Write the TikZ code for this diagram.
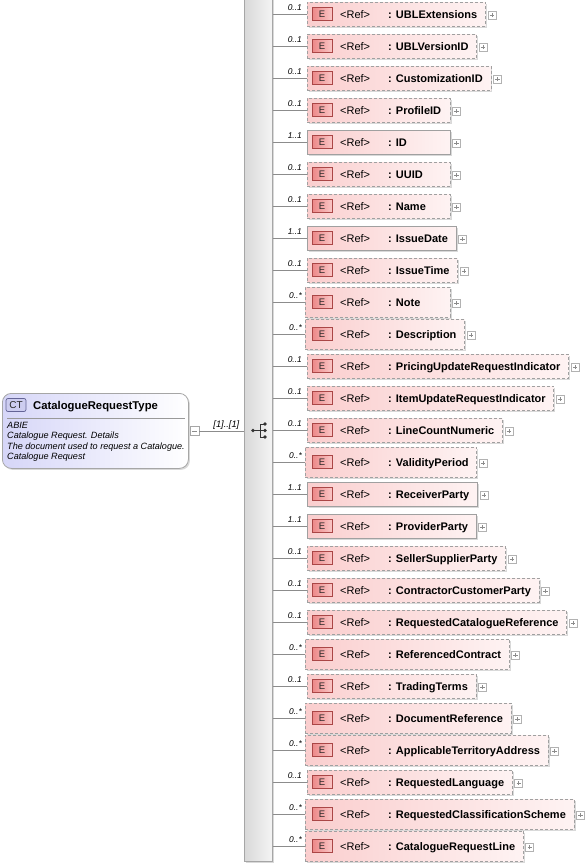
\documentclass[tikz,border=0pt]{standalone}
\usepackage{fontspec}
\setmainfont{Liberation Sans}
\usetikzlibrary{fit,shadows,calc}
\pgfdeclarelayer{bg}
\pgfsetlayers{bg,main}
\definecolor{pinkL}{RGB}{250,206,206}
\definecolor{pinkR}{RGB}{254,243,243}
\definecolor{eL}{RGB}{236,136,136}
\definecolor{eR}{RGB}{250,198,198}
\definecolor{eD}{RGB}{170,70,70}
\definecolor{lavL}{RGB}{214,214,248}
\definecolor{edge}{RGB}{160,160,160}
\definecolor{ctD}{RGB}{100,100,150}
\definecolor{ctF}{RGB}{205,205,240}
\tikzset{
 elbox/.style={rectangle, inner sep=0pt, left color=pinkL, right color=pinkR, draw=edge, line width=0.8pt,
   drop shadow={shadow xshift=1.5pt, shadow yshift=-1.5pt, fill=black, opacity=0.15}},
 box-o/.style={elbox, dash pattern=on 3pt off 2pt},
 box-m/.style={box-o},
 box-r/.style={elbox},
 eicon/.style={rectangle, minimum width=20pt, minimum height=13pt, inner sep=0pt, draw=eD, line width=0.7pt,
   left color=eL, right color=eR, font=\fontsize{9.5}{10}\selectfont, text=black!85},
 reftxt/.style={anchor=base west, inner sep=0pt, font=\fontsize{11}{13}\selectfont},
 nametxt/.style={anchor=base west, inner sep=0pt, font=\fontsize{11}{13}\selectfont\bfseries},
 multtxt/.style={anchor=base east, inner sep=0pt, font=\fontsize{8.4}{10}\selectfont\itshape},
 desctxt/.style={anchor=base west, inner sep=0pt, font=\fontsize{9.1}{10}\selectfont\itshape},
 conn/.style={draw=black!45, line width=0.8pt},
 plusbox/.style={rectangle, draw=black!30, fill=white, minimum size=8pt, inner sep=0pt, line width=0.6pt,
   path picture={\draw[black!45, line width=0.6pt]
     ([xshift=1.8pt]path picture bounding box.west) -- ([xshift=-1.8pt]path picture bounding box.east)
     ([yshift=1.8pt]path picture bounding box.south) -- ([yshift=-1.8pt]path picture bounding box.north);}},
 minusbox/.style={rectangle, draw=black!35, fill=white, minimum size=9pt, inner sep=0pt, line width=0.6pt,
   path picture={\draw[black!45, line width=0.6pt]
     ([xshift=2pt]path picture bounding box.west) -- ([xshift=-2pt]path picture bounding box.east);}},
 seqbar/.style={rectangle, inner sep=0pt, left color=black!15, right color=black!4, draw=black!35, line width=0.8pt,
   drop shadow={shadow xshift=1.5pt, shadow yshift=-1.5pt, fill=black, opacity=0.15}},
 ctbox/.style={rectangle, rounded corners=9pt, inner sep=0pt, left color=lavL, right color=white, draw=black!35, line width=0.8pt,
   drop shadow={shadow xshift=1.5pt, shadow yshift=-1.5pt, fill=black, opacity=0.15}},
 ctbadge/.style={rectangle, rounded corners=2pt, draw=ctD, fill=ctF, minimum width=20pt, minimum height=13pt, inner sep=0pt,
   line width=0.7pt, font=\fontsize{10}{11}\selectfont, text=black!85},
}
\begin{document}
\begin{tikzpicture}[x=1pt,y=-1pt]
\useasboundingbox (0,0) rectangle (588,865);
% sequence bar
\node[seqbar, minimum width=28pt, minimum height=863pt, anchor=north west] (seq) at (244,-2) {};
% sequence icon
\draw[black!80, line width=0.8pt] (253,430.5) -- (260,430.5) (260,424) -- (260,437) (260,424) -- (265,424) (260,437) -- (265,437) (260,430.5) -- (265,430.5);
\fill[black!80] (253,430.5) circle (1.9pt) (265,424) circle (1.9pt) (265,430.5) circle (1.9pt) (265,437) circle (1.9pt);
% complex type box
\node[ctbox, anchor=north west, minimum width=186pt, minimum height=75pt] (ct) at (2,393) {};
\node[ctbadge] (ctb) at (16,405) {CT};
\node[anchor=base west, inner sep=0pt, font=\fontsize{11.3}{13}\selectfont\bfseries] (ttl) at (33,409) {CatalogueRequestType};
\draw[black!40, line width=0.8pt] (7,418) -- (185,418);
\node[desctxt] (d1) at (7,428.5) {ABIE};
\node[desctxt] (d2) at (7,438.8) {Catalogue Request. Details};
\node[desctxt] (d3) at (7,449) {The document used to request a Catalogue.};
\node[desctxt] (d4) at (7,459.2) {Catalogue Request};
\node[minusbox] (mn) at ([xshift=5.5pt]ct.east) {};
\draw[conn] (mn.east) -- (seq.west |- mn.east);
\node[anchor=base east, inner sep=0pt, font=\fontsize{9.3}{11}\selectfont\itshape] (card) at (239.5,427.5) {[1]..[1]};
% elements
\foreach \nm/\mlt/\kd [count=\idx from 0] in {UBLExtensions/0..1/o,%
UBLVersionID/0..1/o,%
CustomizationID/0..1/o,%
ProfileID/0..1/o,%
ID/1..1/r,%
UUID/0..1/o,%
Name/0..1/o,%
IssueDate/1..1/r,%
IssueTime/0..1/o,%
Note/0..*/m,%
Description/0..*/m,%
PricingUpdateRequestIndicator/0..1/o,%
ItemUpdateRequestIndicator/0..1/o,%
LineCountNumeric/0..1/o,%
ValidityPeriod/0..*/m,%
ReceiverParty/1..1/r,%
ProviderParty/1..1/r,%
SellerSupplierParty/0..1/o,%
ContractorCustomerParty/0..1/o,%
RequestedCatalogueReference/0..1/o,%
ReferencedContract/0..*/m,%
TradingTerms/0..1/o,%
DocumentReference/0..*/m,%
ApplicableTerritoryAddress/0..*/m,%
RequestedLanguage/0..1/o,%
RequestedClassificationScheme/0..*/m,%
CatalogueRequestLine/0..*/m}{%
  \pgfmathsetmacro\cy{14+32*\idx}%
  \if\kd m\def\hh{15}\def\xl{305}\else\def\hh{12}\def\xl{307}\fi
  \node[eicon] (e\idx) at (322,\cy) {E};
  \node[reftxt] (r\idx) at (340,\cy+4) {<Ref>};
  \node[nametxt] (n\idx) at (388,\cy+4) {: \nm};
  \coordinate (la\idx) at (\xl,\cy-\hh);
  \path let \p1=(n\idx.east) in coordinate (ra\idx) at ({max(\x1+8pt,450pt)},\cy+\hh);
  \begin{pgfonlayer}{bg}
    \node[box-\kd, fit=(la\idx)(ra\idx)] (b\idx) {};
  \end{pgfonlayer}
  \node[plusbox] (p\idx) at ([xshift=6pt,yshift=-1pt]b\idx.east) {};
  \draw[conn] (seq.east |- b\idx.west) -- (b\idx.west);
  \node[multtxt] (m\idx) at (302,\cy-4) {\mlt};
}
\end{tikzpicture}
\end{document}
